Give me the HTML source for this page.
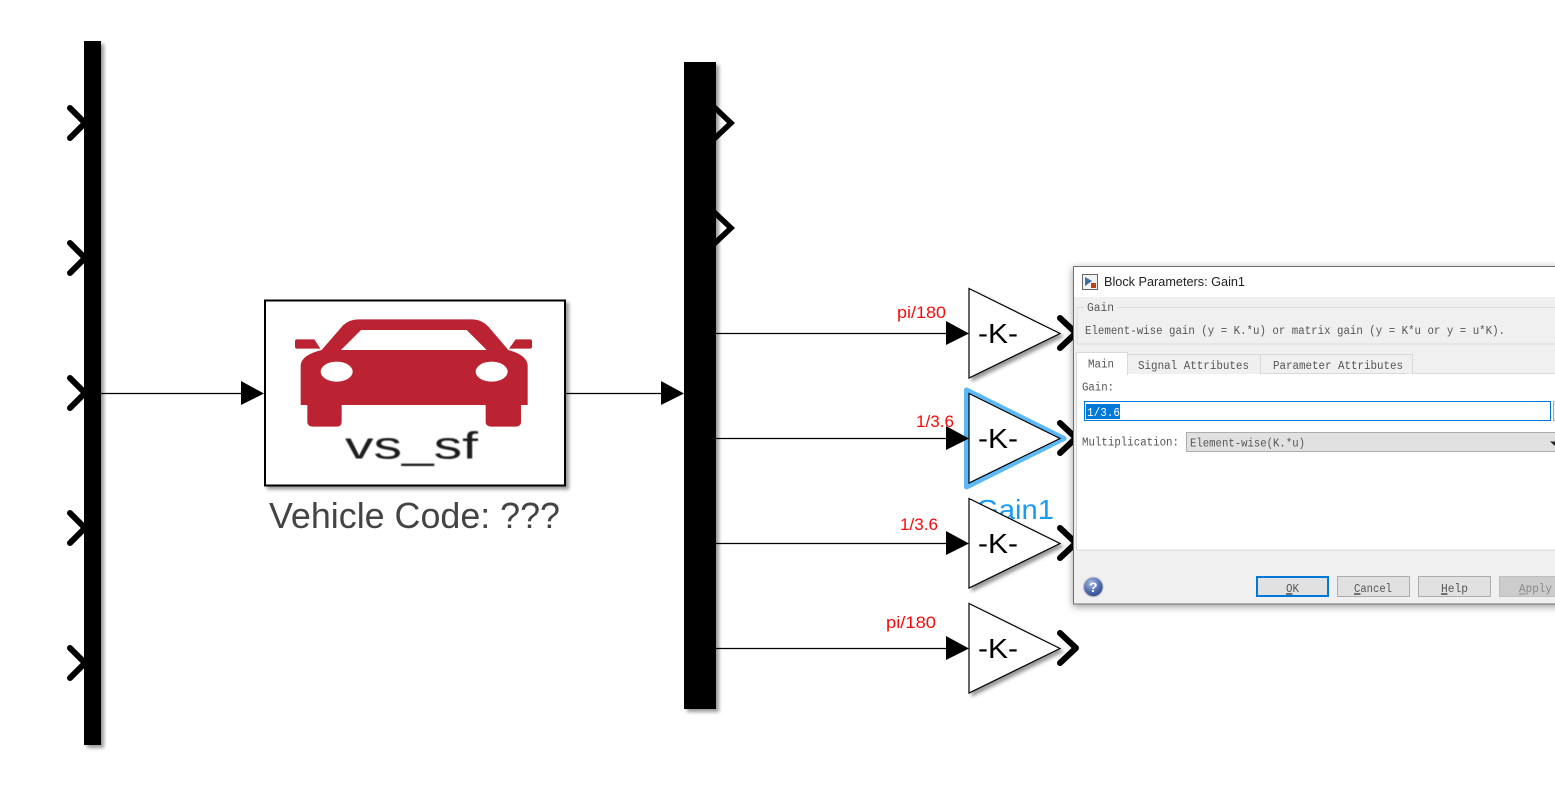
<!DOCTYPE html>
<html>
<head>
<meta charset="utf-8">
<style>
html,body{margin:0;padding:0;background:#fff;width:1555px;height:786px;overflow:hidden}
svg{display:block}
.m{font-family:"Liberation Mono",monospace;font-size:11.5px;fill:#555}
.r{font-family:"Liberation Sans","Noto Sans CJK SC",sans-serif;font-size:17px;fill:#f60c0c}
.k{font-family:"Liberation Sans",sans-serif;font-size:28px;fill:#000}
</style>
</head>
<body>
<svg width="1555" height="786" viewBox="0 0 1555 786" xmlns="http://www.w3.org/2000/svg">
<defs>
<filter id="s" x="-30%" y="-30%" width="160%" height="160%"><feDropShadow dx="3" dy="3" stdDeviation="1.8" flood-color="#000" flood-opacity=".4"/></filter>
<filter id="d" x="-5%" y="-5%" width="110%" height="110%"><feDropShadow dx="0" dy="2" stdDeviation="4" flood-color="#000" flood-opacity=".4"/></filter>
<filter id="b"><feGaussianBlur stdDeviation=".45"/></filter>
<radialGradient id="q" cx=".4" cy=".3" r=".8"><stop offset="0" stop-color="#a9bbe6"/><stop offset=".6" stop-color="#4a66ae"/><stop offset="1" stop-color="#28407f"/></radialGradient>
</defs>

<!-- left bar -->
<g fill="none" stroke="#000" stroke-width="6" stroke-linecap="round" stroke-linejoin="miter">
<path d="M70 108L85 123L70 138"/><path d="M70 243L85 258L70 273"/><path d="M70 378L85 393L70 408"/><path d="M70 513L85 528L70 543"/><path d="M70 648L85 663L70 678"/>
</g>
<rect x="84" y="41" width="17" height="704" fill="#000" filter="url(#s)"/>

<!-- right bar -->
<g fill="none" stroke="#000" stroke-width="5.5">
<path d="M714 107L731 123L714 139"/><path d="M714 212L731 228L714 244"/>
</g>
<rect x="684" y="62" width="32" height="647" fill="#000" filter="url(#s)"/>

<!-- wires -->
<g stroke="#000" stroke-width="1.2">
<path d="M101 393.500H245M565 393.500H665M716 333.500H950M716 438.500H950M716 543.500H950M716 648.500H950"/>
</g>

<!-- vehicle block -->
<rect x="265" y="300.500" width="300" height="185" fill="#fff" stroke="#000" stroke-width="2" filter="url(#s)"/>
<g transform="translate(255 290) scale(.33333)" filter="url(#b)">
<path fill="#bb2231" d="M137 345L137 225Q140 195 200 180L265 105Q285 88 310 88L650 88Q680 88 700 110L760 180Q815 195 818 225L818 345L798 345L798 395Q798 410 780 410L710 410Q692 410 692 395L692 345L260 345L260 395Q260 410 245 410L175 410Q157 410 157 395L157 345Z"/>
<path fill="#fff" d="M258 180L318 120L635 120L695 180Z"/>
<ellipse cx="245" cy="245" rx="48" ry="30" fill="#fff"/><ellipse cx="710" cy="245" rx="48" ry="30" fill="#fff"/>
<path fill="#bb2231" d="M126 148L178 148L196 176L126 176Q120 176 120 170L120 154Q120 148 126 148Z"/>
<path fill="#bb2231" d="M782 148L825 148Q831 148 831 154L831 170Q831 176 825 176L762 176Z"/>
</g>
<text x="345" y="458.500" font-family="Liberation Sans,sans-serif" font-size="38" fill="#1c1c1c" textLength="133" lengthAdjust="spacingAndGlyphs" filter="url(#b)">vs_sf</text>
<text x="269" y="528" font-family="Liberation Sans,sans-serif" font-size="36" fill="#444" textLength="291" lengthAdjust="spacingAndGlyphs">Vehicle Code: ???</text>

<!-- gain output chevrons -->
<g fill="none" stroke="#000" stroke-width="6" stroke-linecap="round" stroke-linejoin="round">
<path d="M1060 318L1076 333L1060 348"/><path d="M1060 423L1076 438L1060 453"/><path d="M1060 528L1076 543L1060 558"/><path d="M1060 633L1076 648L1060 663"/>
</g>

<!-- gain label -->
<text x="976" y="519" font-family="Liberation Sans,sans-serif" font-size="28" fill="#1a9bf2" textLength="78" lengthAdjust="spacingAndGlyphs">Gain1</text>

<!-- gain blocks -->
<path d="M969 288.500L1060 333.500L969 378Z" fill="#fff" stroke="#000" stroke-width="1.2" filter="url(#s)"/>
<path d="M966.500 390L1064 438.500L966.500 487Z" fill="#fff" stroke="#5cb9f6" stroke-width="5" stroke-linejoin="round"/>
<path d="M969 393.500L1060 438.500L969 483Z" fill="#fff" stroke="#000" stroke-width="1.2"/>
<path d="M969 498.500L1060 543.500L969 588Z" fill="#fff" stroke="#000" stroke-width="1.2" filter="url(#s)"/>
<path d="M969 603.500L1060 648.500L969 693Z" fill="#fff" stroke="#000" stroke-width="1.2" filter="url(#s)"/>
<text class="k" x="978" y="343" textLength="40" lengthAdjust="spacingAndGlyphs">-K-</text>
<text class="k" x="978" y="448" textLength="40" lengthAdjust="spacingAndGlyphs">-K-</text>
<text class="k" x="978" y="553" textLength="40" lengthAdjust="spacingAndGlyphs">-K-</text>
<text class="k" x="978" y="658" textLength="40" lengthAdjust="spacingAndGlyphs">-K-</text>

<!-- arrowheads -->
<g fill="#000">
<path d="M241 381L264 393.500L241 405Z"/><path d="M661 381L684 393.500L661 405Z"/>
<path d="M946 321L969 333.500L946 345Z"/><path d="M946 426L969 438.500L946 450Z"/><path d="M946 531L969 543.500L946 555Z"/><path d="M946 636L969 648.500L946 660Z"/>
</g>

<!-- red labels -->
<text class="r" x="897" y="318" textLength="49" lengthAdjust="spacingAndGlyphs">pi/180</text>
<text class="r" x="916" y="427" textLength="38" lengthAdjust="spacingAndGlyphs">1/3.6</text>
<text class="r" x="900" y="530" textLength="38" lengthAdjust="spacingAndGlyphs">1/3.6</text>
<text class="r" x="886" y="628" textLength="50" lengthAdjust="spacingAndGlyphs">pi/180</text>

<!-- dialog -->
<rect x="1073.500" y="266.500" width="490" height="337.500" fill="#f0f0f0" stroke="#707070" stroke-width="1" filter="url(#d)"/>
<rect x="1074" y="267" width="481" height="30" fill="#fff"/>
<rect x="1082.500" y="274.500" width="15" height="15" fill="#f3f3f3" stroke="#666"/>
<path d="M1085 277L1092 281L1085 286Z" fill="#3a6ea5"/>
<rect x="1091" y="283" width="5" height="5" fill="#c8401a"/>
<text x="1104" y="286" font-family="Liberation Sans,sans-serif" font-size="13" fill="#222" textLength="141" lengthAdjust="spacingAndGlyphs">Block Parameters: Gain1</text>

<path d="M1084 307.500H1077V344H1555M1117 307.500H1555" fill="none" stroke="#dcdcdc"/>
<text class="m" x="1087" y="311" textLength="27" lengthAdjust="spacingAndGlyphs">Gain</text>
<text class="m" x="1085" y="334" textLength="420" lengthAdjust="spacingAndGlyphs">Element-wise gain (y = K.*u) or matrix gain (y = K*u or y = u*K).</text>

<rect x="1076.500" y="373.500" width="479" height="176.500" fill="#fff" stroke="#d9d9d9"/>
<path d="M1127.500 374V354.500H1260.500V374M1260.500 354.500H1412.500V374" fill="#f0f0f0" stroke="#d9d9d9"/>
<path d="M1076.500 375V352.500H1127.500V375Z" fill="#fff"/>
<path d="M1076.500 375V352.500H1127.500V375" fill="none" stroke="#d9d9d9"/>
<text class="m" x="1088" y="367.500" textLength="26" lengthAdjust="spacingAndGlyphs">Main</text>
<text class="m" x="1138" y="369" textLength="111" lengthAdjust="spacingAndGlyphs">Signal Attributes</text>
<text class="m" x="1273" y="369" textLength="130" lengthAdjust="spacingAndGlyphs">Parameter Attributes</text>
<text class="m" x="1082" y="390.500" textLength="32" lengthAdjust="spacingAndGlyphs">Gain:</text>

<rect x="1084.500" y="401.500" width="466" height="19" fill="#fff" stroke="#0078d7"/>
<rect x="1086" y="404" width="34" height="15" fill="#0078d7"/>
<text class="m" x="1087" y="416" style="fill:#fff" textLength="33" lengthAdjust="spacingAndGlyphs">1/3.6</text>
<rect x="1553.500" y="401.500" width="10" height="19" fill="#f0f0f0" stroke="#adadad"/>

<text class="m" x="1082" y="445.500" textLength="97" lengthAdjust="spacingAndGlyphs">Multiplication:</text>
<rect x="1186.500" y="432.500" width="380" height="19" fill="#e1e1e1" stroke="#adadad"/>
<text class="m" x="1190" y="446.500" textLength="115" lengthAdjust="spacingAndGlyphs">Element-wise(K.*u)</text>
<path d="M1550 441.500L1555 441.500L1555 446Z" fill="#222"/>

<circle cx="1093.300" cy="587" r="9.800" fill="url(#q)" stroke="#c6c6c6" stroke-width="1.2"/>
<text x="1093.300" y="592" text-anchor="middle" font-family="Liberation Sans,sans-serif" font-size="14" font-weight="bold" fill="#fff">?</text>

<rect x="1257" y="577" width="71" height="19" fill="#e1e1e1" stroke="#0078d7" stroke-width="2"/>
<rect x="1337.500" y="576.500" width="72" height="20" fill="#e1e1e1" stroke="#adadad"/>
<rect x="1418.500" y="576.500" width="72" height="20" fill="#e1e1e1" stroke="#adadad"/>
<rect x="1499.500" y="576.500" width="72" height="20" fill="#cccccc" stroke="#bfbfbf"/>
<text class="m" x="1286" y="592" textLength="13" lengthAdjust="spacingAndGlyphs">OK</text>
<text class="m" x="1354" y="592" textLength="38" lengthAdjust="spacingAndGlyphs">Cancel</text>
<text class="m" x="1441" y="592" textLength="27" lengthAdjust="spacingAndGlyphs">Help</text>
<text class="m" x="1519" y="592" style="fill:#8a8a8a" textLength="33" lengthAdjust="spacingAndGlyphs">Apply</text>
<path d="M1286 594H1292.500M1354 594H1360.500M1441 594H1447.500" stroke="#000" stroke-width="1"/>
<path d="M1519 594H1525.500" stroke="#8a8a8a" stroke-width="1"/>
</svg>
</body>
</html>
